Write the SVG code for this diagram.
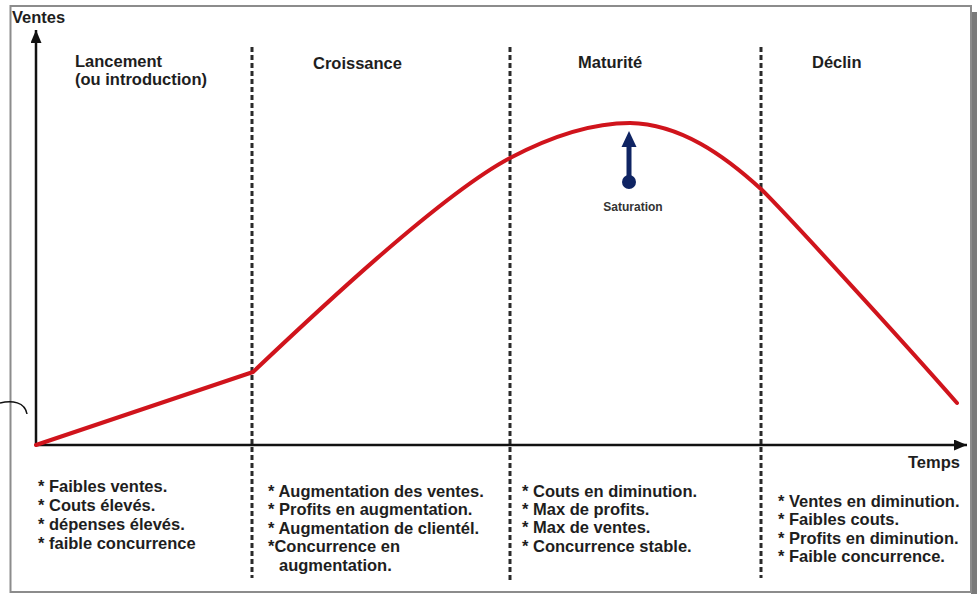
<svg xmlns="http://www.w3.org/2000/svg" width="977" height="594" viewBox="0 0 977 594">
<style>
  text { font-family: "Liberation Sans", Arial, sans-serif; font-weight: bold; fill: #1e1e1e; }
  .hdr { font-size: 16.5px; }
  .body { font-size: 16.5px; }
  .axis { stroke: #111; stroke-width: 2.5; fill: none; }
  .dash { stroke: #2a2a2a; stroke-width: 3; stroke-dasharray: 5 3; fill: none; }
  .curve { stroke: #d0141c; stroke-width: 4; fill: none; stroke-linejoin: round; stroke-linecap: round; }
</style>
<defs>
  <marker id="axArrow" markerUnits="userSpaceOnUse" markerWidth="13" markerHeight="11" refX="13" refY="5.5" orient="auto">
    <path d="M0,0 L13,5.5 L0,11 z" fill="#111"/>
  </marker>
</defs>
<rect x="0" y="0" width="977" height="594" fill="#ffffff"/>
<!-- frame -->
<g id="frame">
  <rect x="971" y="12" width="6" height="582" fill="#7a7a7a"/>
  <rect x="10.5" y="6" width="960.5" height="586" fill="none" stroke="#8c8c8c" stroke-width="2"/>
  <path d="M0,403 C12,400 25,402 27,414" fill="none" stroke="#111" stroke-width="1.5"/>
</g>
<!-- phase separators -->
<g id="separators">
  <line class="dash" x1="252" y1="47" x2="252" y2="578"/>
  <line class="dash" x1="510" y1="47" x2="510" y2="580"/>
  <line class="dash" x1="761" y1="47" x2="761" y2="578"/>
</g>
<!-- axes -->
<g id="axes">
  <line class="axis" x1="36" y1="446" x2="36" y2="30" marker-end="url(#axArrow)"/>
  <line class="axis" x1="35" y1="445" x2="967" y2="445" marker-end="url(#axArrow)"/>
  <text x="12" y="23" style="font-size:16.5px">Ventes</text>
  <text x="908" y="468" style="font-size:16.5px">Temps</text>
</g>
<!-- sales curve -->
<g id="curve">
  <path class="curve" d="M36,445 L253,372 C310,318 440,195 510,158 C550,137 590,123 630,123 C680,124 724,155 762,190 C790,218 900,338 957,403"/>
</g>
<!-- saturation marker -->
<g id="saturation">
  <line x1="629" y1="182" x2="629" y2="144" stroke="#0f2463" stroke-width="5"/>
  <path d="M621.5,147 L629,131 L636.5,147 z" fill="#0f2463"/>
  <circle cx="629" cy="182" r="7" fill="#0f2463"/>
  <text x="633" y="211" text-anchor="middle" style="font-size:12px;fill:#333">Saturation</text>
</g>
<!-- phases -->
<g id="phase-lancement">
  <text class="hdr" x="75" y="67">Lancement</text>
  <text class="hdr" x="75" y="85">(ou introduction)</text>
  <text class="body" x="38" y="492">* Faibles ventes.</text>
  <text class="body" x="38" y="511">* Couts élevés.</text>
  <text class="body" x="38" y="530">* dépenses élevés.</text>
  <text class="body" x="38" y="549">* faible concurrence</text>
</g>
<g id="phase-croissance">
  <text class="hdr" x="313" y="69">Croissance</text>
  <text class="body" x="268" y="497">* Augmentation des ventes.</text>
  <text class="body" x="268" y="515">* Profits en augmentation.</text>
  <text class="body" x="268" y="534">* Augmentation de clientél.</text>
  <text class="body" x="268" y="552">*Concurrence en</text>
  <text class="body" x="279" y="571">augmentation.</text>
</g>
<g id="phase-maturite">
  <text class="hdr" x="578" y="68">Maturité</text>
  <text class="body" x="522" y="497">* Couts en diminution.</text>
  <text class="body" x="522" y="515">* Max de profits.</text>
  <text class="body" x="522" y="533">* Max de ventes.</text>
  <text class="body" x="522" y="552">* Concurrence stable.</text>
</g>
<g id="phase-declin">
  <text class="hdr" x="812" y="68">Déclin</text>
  <text class="body" x="778" y="507">* Ventes en diminution.</text>
  <text class="body" x="778" y="525">* Faibles couts.</text>
  <text class="body" x="778" y="544">* Profits en diminution.</text>
  <text class="body" x="778" y="562">* Faible concurrence.</text>
</g>
</svg>
